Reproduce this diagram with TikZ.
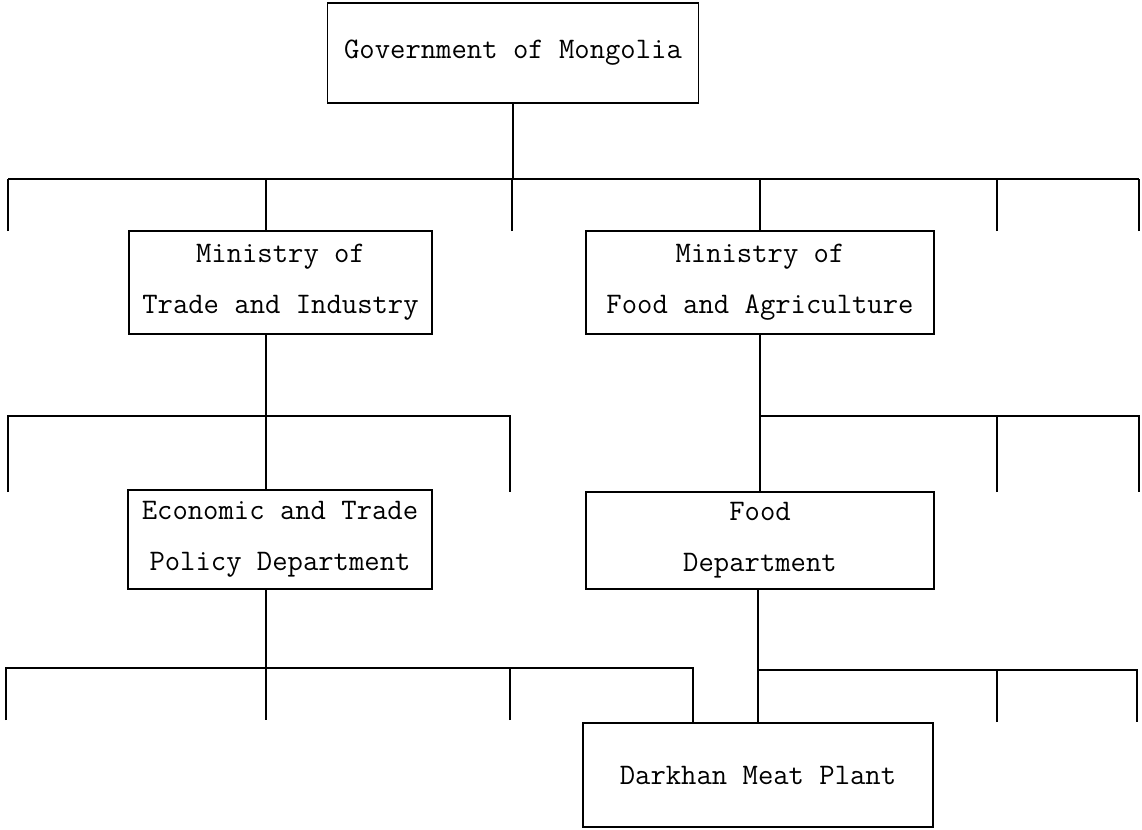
\documentclass[tikz,border=0pt]{standalone}
\usepackage{tikz}

\tikzset{
  box/.style={draw, line width=1.1pt, inner sep=0pt, outer sep=0pt, align=center,
    font=\ttfamily\fontsize{21.2}{36}\selectfont},
  wire/.style={line width=1.1pt}
}

\begin{document}
\begin{tikzpicture}[x=0.025cm, y=-0.025cm]
\useasboundingbox (0,0) rectangle (1142,829);

%boxes
\node [box, minimum width=9.275cm, minimum height=2.5cm] (gov) at (513,53) {Government of Mongolia};
\node [box, minimum width=7.575cm, minimum height=2.575cm] (trade) at (280.5,282.5) {Ministry of\\Trade and Industry};
\node [box, minimum width=8.7cm, minimum height=2.575cm] (agri) at (760,282.5) {Ministry of\\Food and Agriculture};
\node [box, minimum width=7.6cm, minimum height=2.475cm] (econ) at (280,539.5) {Economic and Trade\\Policy Department};
\node [box, minimum width=8.7cm, minimum height=2.425cm] (food) at (760,540.5) {Food\\Department};
\node [box, minimum width=8.75cm, minimum height=2.6cm] (plant) at (758,775) {Darkhan Meat Plant};

%level 1
\coordinate (bar1) at (gov.south |- 0,179);
\coordinate (t1) at (266,179);
\draw [wire] (gov) -- (bar1);
\draw [wire] (t1) -- (t1 |- trade.north);
\draw [wire] (bar1 -| agri) -- (agri);
\foreach \x [count=\i] in {8,512,997,1139}{
  \coordinate (d\i) at (\x,231);
  \draw [wire] (d\i) -- (d\i |- bar1);
}
\draw [wire] (d1 |- bar1) -- (d4 |- bar1);

%level 2 left
\coordinate (bar2l) at (266,416);
\coordinate (l2a) at (8,492);
\coordinate (l2b) at (510,492);
\draw [wire] (t1 |- trade.south) -- (t1 |- econ.north);
\draw [wire] (l2a) |- (bar2l) -| (l2b);

%level 2 right
\coordinate (bar2r) at (760,416);
\coordinate (r2a) at (997,492);
\coordinate (r2b) at (1139,492);
\draw [wire] (agri) -- (food);
\draw [wire] (bar2r) -| (r2b);
\draw [wire] (r2a) -- (r2a |- bar2r);

%level 3 left
\coordinate (bar3l) at (266,668);
\coordinate (l3a) at (6,720);
\coordinate (l3c) at (510,720);
\coordinate (l3d) at (693,668);
\draw [wire] (t1 |- econ.south) -- (bar3l |- l3a);
\draw [wire] (l3a) |- (l3d) -- (l3d |- plant.north);
\draw [wire] (l3c) -- (l3c |- bar3l);

%level 3 right
\coordinate (bar3r) at (758,670);
\coordinate (r3a) at (997,722);
\coordinate (r3b) at (1137,722);
\draw [wire] (food.south -| plant) -- (plant);
\draw [wire] (bar3r) -| (r3b);
\draw [wire] (r3a) -- (r3a |- bar3r);
\end{tikzpicture}
\end{document}
